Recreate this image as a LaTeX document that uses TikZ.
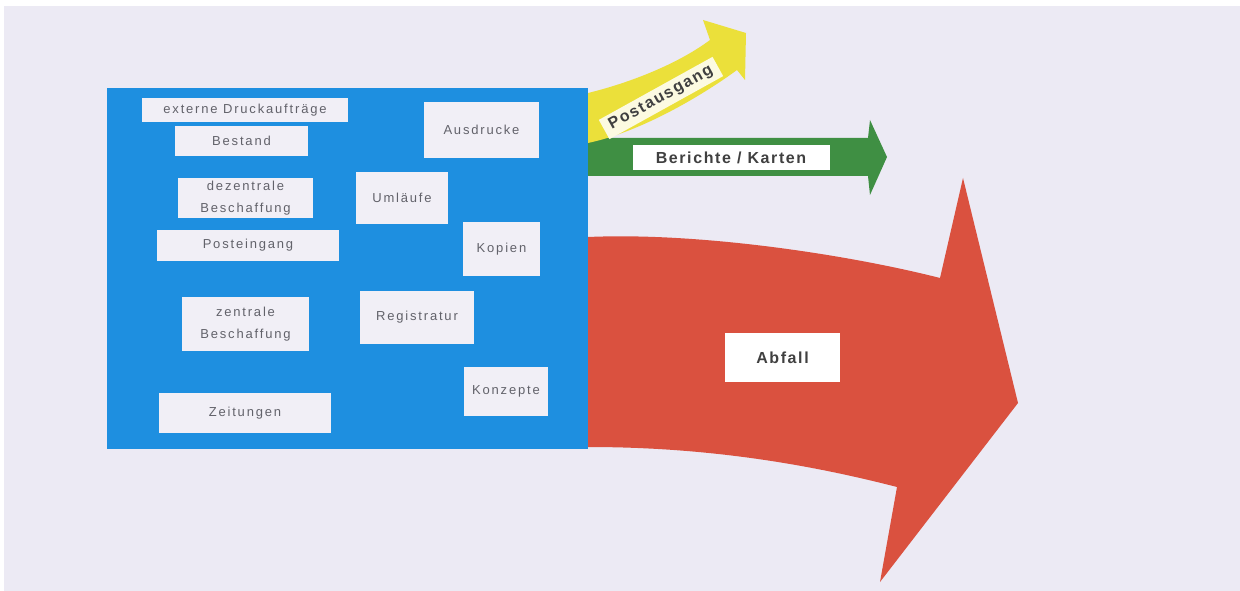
\documentclass[tikz,border=0pt]{standalone}
\usepackage{fontspec}
\setmainfont{Liberation Sans}
\newfontfamily\lblfont[LetterSpace=14]{Liberation Sans}
\newfontfamily\arrfont[LetterSpace=10]{Liberation Sans}
\usepackage{tikz}
\definecolor{bgcol}{HTML}{ECEAF4}
\definecolor{boxblue}{HTML}{1E8FE0}
\definecolor{lblcol}{HTML}{F1EFF6}
\definecolor{redarrow}{HTML}{DA513F}
\definecolor{greenarrow}{HTML}{3F8F43}
\definecolor{yellowarrow}{HTML}{EBE03A}
\definecolor{txtgray}{HTML}{62626A}
\tikzstyle{lbl}=[rectangle, fill=lblcol, inner sep=0pt, align=center, text=txtgray, font=\lblfont\fontsize{13}{22}\selectfont]
\tikzstyle{arrlbl}=[rectangle, fill=white, inner sep=0pt, text=black!75, font=\arrfont\bfseries\fontsize{16}{18}\selectfont]

\begin{document}
\begin{tikzpicture}[x=1pt, y=-1pt]
    \useasboundingbox (0,0) rectangle (1240,591);
    \fill[white] (0,0) rectangle (1240,591);
    \fill[bgcol] (4,6) rectangle (1240,591);

    % arrows
    \fill[redarrow] (588,237) .. controls (700,232) and (850,255) .. (940,278)
      -- (963,178) -- (1018,403) -- (880,582) -- (897,487)
      .. controls (800,462) and (700,447) .. (588,447) -- cycle;
    \fill[greenarrow] (588,138) -- (868,138) -- (870,120) -- (887,157)
      -- (870,195) -- (868,176) -- (588,176) -- cycle;
    \fill[yellowarrow] (588,93) .. controls (625,84) and (675,66) .. (710,40)
      -- (703,20) -- (746,33) -- (745,80) -- (737,70)
      .. controls (700,97) and (640,132) .. (588,143) -- cycle;

    \fill[boxblue] (107,88) rectangle (588,449);

    % labels in the box
    \node[lbl, minimum width=206, minimum height=24] (ext) at (245,110) {externe Druckaufträge};
    \node[lbl, minimum width=133, minimum height=30] (bestand) at (241.5,141) {Bestand};
    \node[lbl, minimum width=135, minimum height=40] (dezentral) at (245.5,198) {dezentrale\\Beschaffung};
    \node[lbl, minimum width=182, minimum height=31] (postein) at (248,245.5) {Posteingang};
    \node[lbl, minimum width=115, minimum height=56] (ausdrucke) at (481.5,130) {Ausdrucke};
    \node[lbl, minimum width=92, minimum height=52] (umlaeufe) at (402,198) {Umläufe};
    \node[lbl, minimum width=77, minimum height=54] (kopien) at (501.5,249) {Kopien};
    \node[lbl, minimum width=127, minimum height=54] (zentral) at (245.5,324) {zentrale\\Beschaffung};
    \node[lbl, minimum width=114, minimum height=53] (registratur) at (417,317.5) {Registratur};
    \node[lbl, minimum width=172, minimum height=40] (zeitungen) at (245,413) {Zeitungen};
    \node[lbl, minimum width=84, minimum height=49] (konzepte) at (506,391.5) {Konzepte};

    % labels on the arrows
    \node[arrlbl, minimum width=197, minimum height=25] (berichte) at (731,157.5) {Berichte / Karten};
    \node[arrlbl, minimum width=115, minimum height=49] (abfall) at (782.5,357.5) {Abfall};
    \node[arrlbl, fill=yellowarrow!15, minimum width=130, minimum height=22, rotate=29] (postaus) at (661,98) {Postausgang};
\end{tikzpicture}
\end{document}
